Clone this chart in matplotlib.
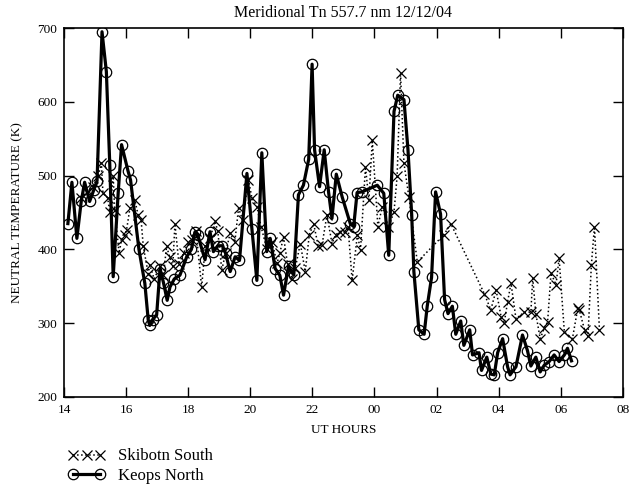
import matplotlib
matplotlib.use("Agg")
import matplotlib.pyplot as plt
from matplotlib.legend_handler import HandlerLine2D

# UT hours (after midnight counted as 24+), temperature in K
skibotn_t = [14.55, 14.75, 14.93, 15.1, 15.2, 15.25, 15.4, 15.47, 15.58, 15.63,
             15.77, 15.85, 15.95, 16.01, 16.12, 16.28, 16.38, 16.48, 16.55, 16.71,
             16.76, 16.9, 17.09, 17.2, 17.3, 17.4, 17.5, 17.57, 17.7, 17.85,
             18.0, 18.11, 18.25, 18.43, 18.55, 18.7, 18.86, 18.95, 19.08, 19.2,
             19.35, 19.5, 19.62, 19.75, 19.94, 20.05, 20.21, 20.35, 20.53, 20.7,
             20.86, 20.95, 21.07, 21.2, 21.35, 21.45, 21.61, 21.77, 21.9, 22.04,
             22.19, 22.31, 22.47, 22.63, 22.75, 22.9, 23.06, 23.15, 23.28, 23.45,
             23.55, 23.71, 23.82, 23.93, 24.11, 24.25, 24.45, 24.63, 24.73, 24.84,
             24.95, 25.11, 25.38, 26.24, 26.46, 27.54, 27.75, 27.92, 28.08, 28.18,
             28.29, 28.4, 28.56, 28.83, 29.04, 29.1, 29.2, 29.34, 29.47, 29.58,
             29.69, 29.85, 29.95, 30.12, 30.38, 30.55, 30.6, 30.77, 30.88, 30.99,
             31.09, 31.25]
skibotn_v = [470, 478, 485, 500, 517, 476, 470, 451, 499, 453,
             395, 413, 420, 426, 456, 467, 447, 440, 404, 367,
             379, 360, 377, 365, 404, 390, 377, 435, 380, 395,
             410, 413, 425, 349, 405, 415, 438, 425, 372, 395,
             422, 410, 456, 440, 494, 470, 458, 430, 401, 410,
             381, 395, 417, 380, 360, 375, 408, 370, 420, 435,
             404, 406, 447, 408, 420, 424, 424, 430, 358, 420,
             399, 512, 467, 548, 431, 458, 430, 451, 499, 639,
             517, 471, 383, 420, 435, 340, 318, 345, 309, 300,
             329, 354, 306, 315, 315, 361, 313, 279, 293, 302,
             368, 352, 388, 288, 279, 320, 318, 291, 282, 379,
             431, 291]

keops_t = [14.12, 14.25, 14.41, 14.55, 14.66, 14.82, 14.95, 15.06, 15.22, 15.36,
           15.47, 15.58, 15.74, 15.85, 16.06, 16.14, 16.41, 16.6, 16.71, 16.76,
           16.85, 16.98, 17.09, 17.2, 17.32, 17.41, 17.55, 17.73, 17.95, 18.1,
           18.22, 18.3, 18.54, 18.7, 18.81, 18.95, 19.1, 19.2, 19.35, 19.51,
           19.65, 19.89, 20.05, 20.21, 20.37, 20.53, 20.64, 20.8, 20.95, 21.07,
           21.23, 21.4, 21.55, 21.71, 21.88, 21.99, 22.07, 22.23, 22.38, 22.52,
           22.63, 22.77, 22.96, 23.22, 23.33, 23.44, 23.6, 24.09, 24.3, 24.46,
           24.63, 24.75, 24.95, 25.08, 25.2, 25.27, 25.43, 25.6, 25.7, 25.84,
           25.97, 26.13, 26.26, 26.37, 26.51, 26.62, 26.78, 26.88, 27.07, 27.16,
           27.37, 27.45, 27.62, 27.75, 27.86, 27.97, 28.13, 28.29, 28.37, 28.56,
           28.77, 28.93, 29.04, 29.2, 29.34, 29.47, 29.63, 29.79, 29.95, 30.12,
           30.22, 30.35]
keops_v = [435, 491, 415, 465, 491, 465, 480, 493, 695, 641,
           515, 363, 476, 542, 506, 494, 400, 354, 304, 297,
           305, 311, 374, 355, 331, 349, 360, 365, 390, 400,
           424, 420, 386, 424, 397, 405, 405, 395, 370, 390,
           385, 503, 428, 358, 531, 397, 415, 374, 365, 338,
           377, 365, 474, 487, 522, 651, 535, 485, 535, 478,
           442, 502, 471, 435, 431, 477, 478, 487, 476, 392,
           587, 609, 603, 535, 447, 370, 291, 285, 323, 362,
           478, 448, 332, 313, 323, 285, 303, 270, 291, 257,
           260, 236, 254, 231, 230, 260, 279, 241, 230, 241,
           284, 263, 242, 254, 234, 243, 248, 257, 248, 257,
           266, 249]

hour_ticks = [14, 16, 18, 20, 22, 24, 26, 28, 30, 32]
hour_labels = ['14', '16', '18', '20', '22', '00', '02', '04', '06', '08']

plt.rcParams['font.family'] = ['Liberation Serif', 'DejaVu Serif']

fig = plt.figure(figsize=(6.29, 4.88), dpi=100)
ax = fig.add_axes([0.102, 0.1865, 0.888, 0.756])

ax.plot(skibotn_t, skibotn_v, color='black', linestyle=':', linewidth=1.1,
        marker='x', markersize=6.5, markeredgewidth=0.9, label='Skibotn South')
ax.plot(keops_t, keops_v, color='black', linestyle='-', linewidth=2.3,
        marker='o', markersize=7.5, markerfacecolor='none', markeredgewidth=0.9,
        label='Keops North')

ax.set_xlim(14, 32)
ax.set_ylim(200, 700)
ax.set_xticks(hour_ticks)
ax.set_xticklabels(hour_labels)
ax.set_yticks([200, 300, 400, 500, 600, 700])
ax.tick_params(direction='in', length=7, width=1, labelsize=9.5,
               top=True, right=True, pad=5)
for s in ax.spines.values():
    s.set_linewidth(1.2)

ax.set_title('Meridional Tn 557.7 nm 12/12/04', fontsize=11.5, pad=8)
ax.set_xlabel('UT HOURS', fontsize=9.5, labelpad=6)
ax.set_ylabel('NEUTRAL TEMPERATURE (K)', fontsize=9.5, labelpad=10)

fig.legend(loc='upper left', bbox_to_anchor=(0.085, 0.112), frameon=False,
           fontsize=12, handlelength=2.2, labelspacing=0.2, handletextpad=0.8,
           handler_map={ax.lines[0]: HandlerLine2D(numpoints=3),
                        ax.lines[1]: HandlerLine2D(numpoints=2)})

fig.savefig('out.png', dpi=100)
